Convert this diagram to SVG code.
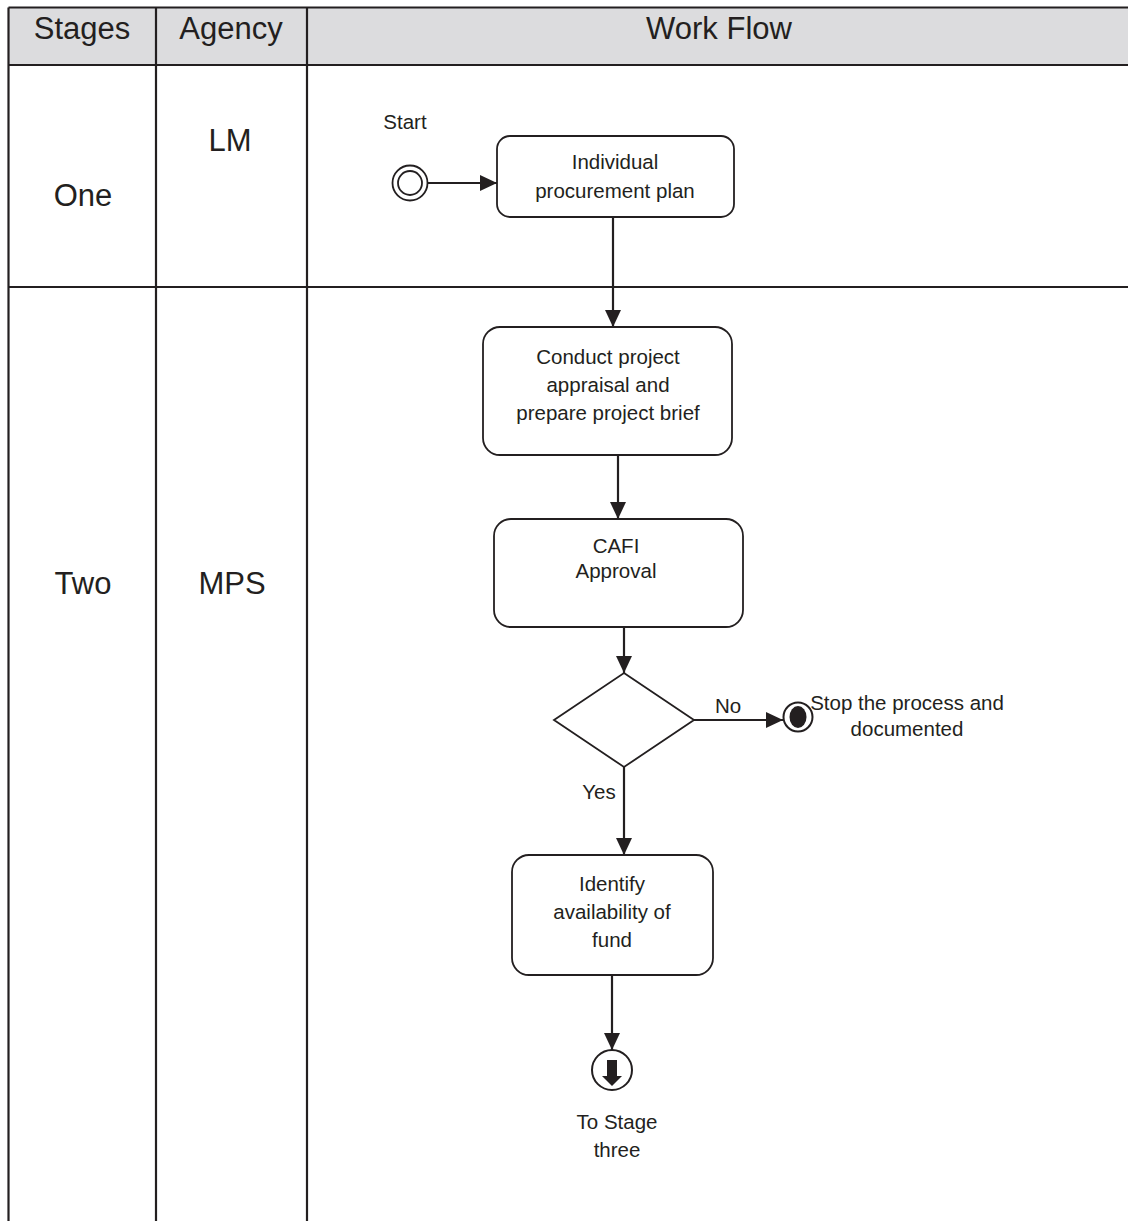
<svg xmlns="http://www.w3.org/2000/svg" width="1128" height="1221" viewBox="0 0 1128 1221">
  <style>
    .grid { stroke: #231f20; stroke-width: 2.2; fill: none; }
    .head { fill: #dcdcde; }
    .big { font-family: "Liberation Sans", Arial, sans-serif; font-size: 31px; fill: #231f20; text-anchor: middle; }
    .lbl { font-family: "Liberation Sans", Arial, sans-serif; font-size: 20.5px; fill: #231f20; text-anchor: middle; }
    .box { fill: #ffffff; stroke: #231f20; stroke-width: 1.8; }
    .edge { stroke: #231f20; stroke-width: 2.2; fill: none; }
  </style>
  <defs>
    <marker id="arrow" markerUnits="userSpaceOnUse" markerWidth="18" markerHeight="16" refX="17" refY="8" orient="auto">
      <path d="M0,0 L17,8 L0,16 Z" fill="#231f20"/>
    </marker>
  </defs>

  <!-- swimlane table -->
  <g id="table">
    <rect class="head" x="8.5" y="7.5" width="1120" height="57.5"/>
    <line class="grid" x1="8.5" y1="7.5" x2="1128" y2="7.5" stroke-width="2.6"/>
    <line class="grid" x1="8.5" y1="65" x2="1128" y2="65" stroke-width="2.6"/>
    <line class="grid" x1="8.5" y1="287" x2="1128" y2="287"/>
    <line class="grid" x1="8.5" y1="7.5" x2="8.5" y2="1221"/>
    <line class="grid" x1="156" y1="7.5" x2="156" y2="1221"/>
    <line class="grid" x1="307" y1="7.5" x2="307" y2="1221"/>
    <text class="big" x="82" y="39">Stages</text>
    <text class="big" x="231" y="39">Agency</text>
    <text class="big" x="719" y="39">Work Flow</text>
    <text class="big" x="83" y="206">One</text>
    <text class="big" x="230" y="151">LM</text>
    <text class="big" x="83" y="594">Two</text>
    <text class="big" x="232" y="594">MPS</text>
  </g>

  <!-- connectors -->
  <g id="connectors">
    <line class="edge" x1="428" y1="183" x2="497" y2="183" marker-end="url(#arrow)"/>
    <line class="edge" x1="613" y1="217" x2="613" y2="327" marker-end="url(#arrow)"/>
    <line class="edge" x1="618" y1="455" x2="618" y2="519" marker-end="url(#arrow)"/>
    <line class="edge" x1="624" y1="627" x2="624" y2="673" marker-end="url(#arrow)"/>
    <line class="edge" x1="694" y1="720" x2="783" y2="720" marker-end="url(#arrow)"/>
    <line class="edge" x1="624" y1="767" x2="624" y2="855" marker-end="url(#arrow)"/>
    <line class="edge" x1="612" y1="975" x2="612" y2="1050" marker-end="url(#arrow)"/>
    <text class="lbl" x="728" y="713">No</text>
    <text class="lbl" x="599" y="799">Yes</text>
  </g>

  <!-- start event -->
  <g id="start">
    <circle cx="410" cy="183" r="17.5" fill="#ffffff" stroke="#231f20" stroke-width="1.8"/>
    <circle cx="410" cy="183" r="12" fill="none" stroke="#231f20" stroke-width="1.8"/>
    <text class="lbl" x="405" y="129" font-size="19.5">Start</text>
  </g>

  <g id="plan">
    <rect class="box" x="497" y="136" width="237" height="81" rx="13"/>
    <text class="lbl" x="615" y="169">Individual</text>
    <text class="lbl" x="615" y="198">procurement plan</text>
  </g>

  <g id="appraisal">
    <rect class="box" x="483" y="327" width="249" height="128" rx="17"/>
    <text class="lbl" x="608" y="364">Conduct project</text>
    <text class="lbl" x="608" y="392">appraisal and</text>
    <text class="lbl" x="608" y="420">prepare project brief</text>
  </g>

  <g id="cafi">
    <rect class="box" x="494" y="519" width="249" height="108" rx="17"/>
    <text class="lbl" x="616" y="553">CAFI</text>
    <text class="lbl" x="616" y="578">Approval</text>
  </g>

  <g id="decision">
    <polygon class="box" points="624,673 694,720 624,767 554,720"/>
  </g>

  <g id="stop">
    <circle cx="798" cy="717" r="14.5" fill="#ffffff" stroke="#231f20" stroke-width="2"/>
    <ellipse cx="798" cy="717" rx="8.5" ry="11" fill="#231f20"/>
    <text class="lbl" x="907" y="710">Stop the process and</text>
    <text class="lbl" x="907" y="736">documented</text>
  </g>

  <g id="fund">
    <rect class="box" x="512" y="855" width="201" height="120" rx="17"/>
    <text class="lbl" x="612" y="891">Identify</text>
    <text class="lbl" x="612" y="919">availability of</text>
    <text class="lbl" x="612" y="947">fund</text>
  </g>

  <!-- off-page reference to the next stage -->
  <g id="to-stage-three">
    <circle cx="612" cy="1070" r="20" fill="#ffffff" stroke="#231f20" stroke-width="2"/>
    <rect x="607" y="1060" width="10" height="17" fill="#231f20"/>
    <polygon points="602,1076 622,1076 612,1086" fill="#231f20"/>
    <text class="lbl" x="617" y="1129">To Stage</text>
    <text class="lbl" x="617" y="1157">three</text>
  </g>
</svg>
